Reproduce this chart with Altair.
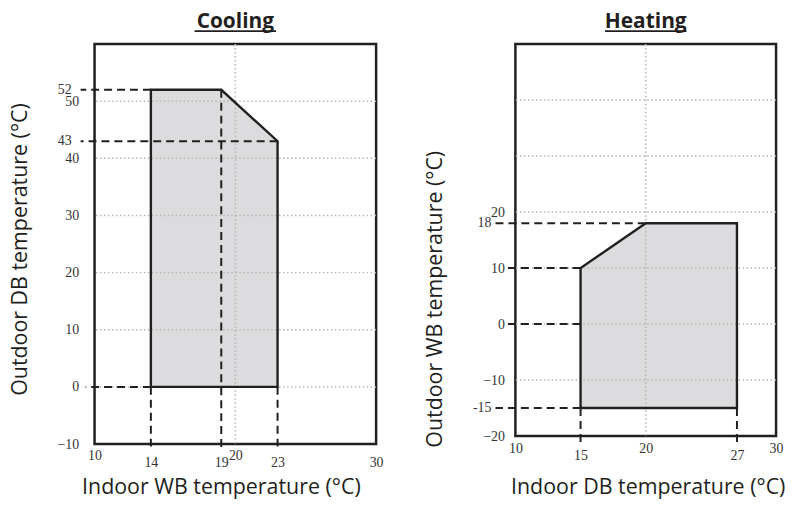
import altair as alt
import pandas as pd

# ---------------- Cooling data ----------------
cool_outline_x = [14, 14, 19, 23, 23, 14]
cool_outline_y = [0, 52, 52, 43, 0, 0]
cool_area_x = [14, 19, 23]
cool_area_y = [52, 52, 43]
cool_area_base = [0, 0, 0]
cool_xticks = [10, 14, 19, 20, 23, 30]
cool_yticks = [-10, 0, 10, 20, 30, 40, 50]
cool_ymarks = [52, 43]            # limit labels drawn beside the dashed leaders
cool_grid_x = [20]
cool_grid_y = [0, 10, 20, 30, 40, 50]
cool_hlong_y = [52, 43]
cool_hlong_x = [14, 23]
cool_hshort_y = [0]
cool_hshort_x = [14]
cool_vdash_x = [14, 19, 23]
cool_vdash_y = [0, 52, 0]

# ---------------- Heating data ----------------
heat_outline_x = [15, 15, 20, 27, 27, 15]
heat_outline_y = [-15, 10, 18, 18, -15, -15]
heat_area_x = [15, 20, 27]
heat_area_y = [10, 18, 18]
heat_area_base = [-15, -15, -15]
heat_xticks = [10, 15, 20, 27, 30]
heat_yticks = [-20, -10, 0, 10, 20]
heat_ymarks = [18, -15]
heat_grid_x = [20]
heat_grid_y = [-10, 0, 10, 20, 30, 40]
heat_hlong_y = [18, -15]
heat_hlong_x = [20, 15]
heat_hshort_y = [10, 0]
heat_hshort_x = [15, 15]
heat_vdash_x = [15, 27]
heat_vdash_y = [-15, -15]

INK = "#231f20"
LABEL = "#333333"


def panel(title, W, H, xdom, ydom, outline_x, outline_y, area_x, area_y, area_base,
          xticks, yticks, ymarks, grid_x, grid_y, hlong_x, hlong_y, hshort_x, hshort_y,
          vdash_x, vdash_y, xtitle, ytitle, high_x, long_off, short_off,
          xtitle_pos, ytitle_pos, xlab_pad, ylab_pad, mark_off):
    xs = alt.Scale(domain=xdom, nice=False, zero=False)
    ys = alt.Scale(domain=ydom, nice=False, zero=False)
    high_list = ",".join(str(v) for v in high_x)
    xaxis = alt.Axis(
        values=xticks, title=xtitle, labelPadding=xlab_pad,
        labelBaseline={"condition": {"test": f"indexof([{high_list}], datum.value) >= 0",
                                     "value": "middle"}, "value": "top"},
        titleX=xtitle_pos[0], titleY=xtitle_pos[1], titleBaseline="middle", titleAlign="center",
    )
    yaxis = alt.Axis(
        values=yticks, title=ytitle, labelPadding=ylab_pad,
        titleX=ytitle_pos[0], titleY=ytitle_pos[1], titleBaseline="middle", titleAlign="center",
        titleAngle=270,
    )

    area_df = pd.DataFrame({"x": area_x, "y": area_y, "y2": area_base})
    area = alt.Chart(area_df).mark_area(color="#dcdcde", opacity=1).encode(
        x=alt.X("x:Q", scale=xs, axis=xaxis),
        y=alt.Y("y:Q", scale=ys, axis=yaxis),
        y2="y2:Q",
    )

    gx = alt.Chart(pd.DataFrame({"x": grid_x})).mark_rule(
        color="#b5b5b5", strokeWidth=1.5, strokeDash=[1.5, 2.5]
    ).encode(x=alt.X("x:Q", scale=xs))
    gy = alt.Chart(pd.DataFrame({"y": grid_y})).mark_rule(
        color="#b5b5b5", strokeWidth=1.5, strokeDash=[1.5, 2.5]
    ).encode(y=alt.Y("y:Q", scale=ys))

    outline = alt.Chart(pd.DataFrame({"x": outline_x, "y": outline_y,
                                      "o": list(range(len(outline_x)))})).mark_line(
        color=INK, strokeWidth=2.4, strokeJoin="miter"
    ).encode(
        x=alt.X("x:Q", scale=xs),
        y=alt.Y("y:Q", scale=ys),
        order="o:Q",
    )

    dash = dict(color=INK, strokeWidth=2, strokeDash=[8, 5])
    hl = alt.Chart(pd.DataFrame({"x": hlong_x, "y": hlong_y})).mark_rule(**dash).encode(
        x=alt.X("x:Q", scale=xs), x2=alt.value(long_off), y=alt.Y("y:Q", scale=ys)
    )
    hs = alt.Chart(pd.DataFrame({"x": hshort_x, "y": hshort_y})).mark_rule(**dash).encode(
        x=alt.X("x:Q", scale=xs), x2=alt.value(short_off), y=alt.Y("y:Q", scale=ys)
    )
    vd = alt.Chart(pd.DataFrame({"x": vdash_x, "y": vdash_y})).mark_rule(**dash).encode(
        x=alt.X("x:Q", scale=xs), y=alt.Y("y:Q", scale=ys), y2=alt.value(H + 6)
    )

    ml = alt.Chart(pd.DataFrame({"y": ymarks, "t": [str(v) for v in ymarks]})).mark_text(
        font="Liberation Serif", fontSize=14, color=LABEL, align="right", baseline="middle"
    ).encode(x=alt.value(mark_off), y=alt.Y("y:Q", scale=ys), text="t:N")

    tdf = pd.DataFrame({"t": [title]})
    ttl = alt.Chart(tdf).mark_text(
        font="Open Sans", fontSize=21, fontWeight="bold", color=INK, baseline="top", align="center"
    ).encode(text="t:N", x=alt.value(W / 2), y=alt.value(-33))
    ul = alt.Chart(tdf).mark_rule(color=INK, strokeWidth=1.6).encode(
        x=alt.value(W / 2 - 41), x2=alt.value(W / 2 + 41), y=alt.value(-13)
    )

    return alt.layer(area, gx, gy, outline, hl, hs, vd, ml, ttl, ul).properties(width=W, height=H)


left = panel("Cooling", 283, 402, [10, 30], [-10, 60],
             cool_outline_x, cool_outline_y, cool_area_x, cool_area_y, cool_area_base,
             cool_xticks, cool_yticks, cool_ymarks, cool_grid_x, cool_grid_y,
             cool_hlong_x, cool_hlong_y, cool_hshort_x, cool_hshort_y,
             cool_vdash_x, cool_vdash_y,
             "Indoor WB temperature (°C)", "Outdoor DB temperature (°C)",
             [10, 20], -14, -9, (127, 44), (-74, 206), 12, 16, -23)

right = panel("Heating", 262, 394, [10, 30], [-20, 50],
              heat_outline_x, heat_outline_y, heat_area_x, heat_area_y, heat_area_base,
              heat_xticks, heat_yticks, heat_ymarks, heat_grid_x, heat_grid_y,
              heat_hlong_x, heat_hlong_y, heat_hshort_x, heat_hshort_y,
              heat_vdash_x, heat_vdash_y,
              "Indoor DB temperature (°C)", "Outdoor WB temperature (°C)",
              [10, 20, 30], -20, -8, (133, 52), (-80, 256), 13, 11, -24)

chart = alt.hconcat(left, right, spacing=140, bounds="flush").properties(
    padding={"left": 0, "top": 0, "right": 0, "bottom": 0}
).configure_view(
    stroke=INK, strokeWidth=2.5
).configure_axis(
    labelFont="Liberation Serif", labelFontSize=14, labelColor=LABEL,
    titleFont="Open Sans", titleFontSize=21.5, titleFontWeight="normal", titleColor=INK,
    grid=False, ticks=False, domain=False, labelOverlap=False, labelFlush=False,
)

chart.save("out.html", embed_options={"renderer": "svg", "actions": False})
